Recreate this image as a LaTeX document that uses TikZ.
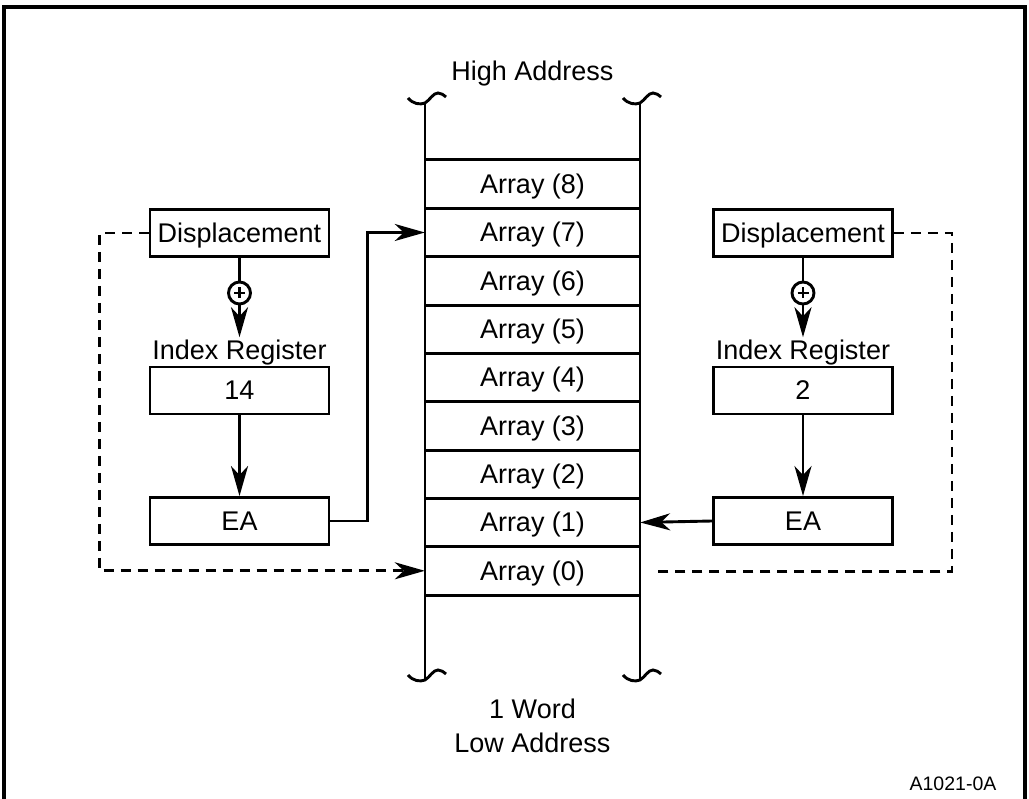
\documentclass[tikz,border=0pt]{standalone}
\usepackage{fontspec}
\setmainfont{Liberation Sans}
\usetikzlibrary{arrows.meta}
\begin{document}
\begin{tikzpicture}[x=1pt,y=-1pt,
  every node/.style={font=\fontsize{27}{31}\selectfont},
  ln/.style={line width=2.9pt},
  box/.style={draw, line width=2.9pt, minimum width=179pt, minimum height=47pt, inner sep=0pt, text height=19pt, text depth=0pt},
  cell/.style={minimum width=215pt, minimum height=48.33pt, inner sep=0pt, text height=19pt, text depth=0pt},
  tip/.style={-{Stealth[length=30pt,width=17pt,inset=9pt]}},
  arr/.style={ln, tip},
  dsh/.style={ln, dash pattern=on 10pt off 7pt},
  lbl/.style={inner sep=0pt, anchor=base},
  squig/.pic={\draw[ln] (-17,-5) .. controls (-12,1) and (-5,2) .. (0,0) .. controls (5,-3) and (8,-10) .. (13,-10) .. controls (16,-10) and (19,-8) .. (21,-6);}]
\useasboundingbox (0,0) rectangle (1029,799);
\begin{scope}
\clip (0,0) rectangle (1029,799);
\draw[line width=3.2pt] (4,7) rectangle (1025,850);
\end{scope}

% memory column
\foreach \i in {0,...,8} {
  \node[cell] (a\i) at (532.5, {160+48.33*(8-\i)+24.17}) {Array (\i)};
  \draw[ln] (a\i.south west) -- (a\i.south east);
}
\draw[ln] (a8.north west) -- (a8.north east);
\coordinate (tl) at (425,103);
\coordinate (tr) at (640,103);
\coordinate (bl) at (425,680);
\coordinate (br) at (640,680);
\draw[ln] (tl) -- (bl);
\draw[ln] (tr) -- (br);
\pic at (tl) {squig};
\pic at (tr) {squig};
\pic at (bl) {squig};
\pic at (br) {squig};

\node[lbl] (hi) at (532.5,80.5) {High Address};
\node[lbl] (w1) at (532.5,718.5) {1 Word};
\node[lbl] (lo) at (532.5,752.5) {Low Address};
\node[lbl, font=\fontsize{19.5}{22}\selectfont] (id) at (953,790) {A1021-0A};

% left side
\node[box] (dl) at (239.5,233) {Displacement};
\node[circle, draw, ln, minimum size=22pt, inner sep=0pt] (pl) at (239.5,293) {};
\draw[ln] (pl.center) +(-5.5,0) -- +(5.5,0);
\draw[ln] (pl.center) +(0,-5.5) -- +(0,5.5);
\node[lbl, inner sep=3pt] (irl) at (239.5,360) {Index Register};
\node[box] (b14) at (239.5,390.5) {14};
\node[box] (eal) at (239.5,521) {EA};
\draw[ln] (dl.south) -- (pl.north);
\draw[arr] (pl.south) -- (irl.north);
\draw[arr] (b14.south) -- (eal.north);
\draw[arr] (eal.east) -- ++(37,0) |- (a7.west);
\draw[dsh, tip] (dl.west) -- ++(-49,0) |- (a0.west);

% right side
\node[box] (dr) at (803,233) {Displacement};
\node[circle, draw, ln, minimum size=22pt, inner sep=0pt] (pr) at (803,293) {};
\draw[ln] (pr.center) +(-5.5,0) -- +(5.5,0);
\draw[ln] (pr.center) +(0,-5.5) -- +(0,5.5);
\node[lbl, inner sep=3pt] (irr) at (803,360) {Index Register};
\node[box] (b2) at (803,390.5) {2};
\node[box] (ear) at (803,521) {EA};
\draw[ln] (dr.south) -- (pr.north);
\draw[arr] (pr.south) -- (irr.north);
\draw[arr] (b2.south) -- (ear.north);
\draw[arr] (ear.west) -- (a1.east);
\coordinate (dend) at (655,571.5);
\draw[dsh] (dr.east) -- ++(58,0) |- (dend);
\end{tikzpicture}
\end{document}
